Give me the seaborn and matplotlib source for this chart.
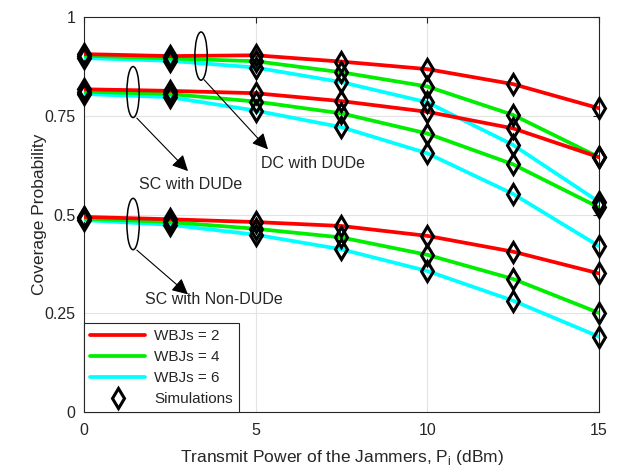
import numpy as np
import pandas as pd
import matplotlib
matplotlib.use("Agg")
import matplotlib.pyplot as plt
from matplotlib.patches import Ellipse
from matplotlib.lines import Line2D
import seaborn as sns

# transmit power of the jammers (dBm)
power = [0, 2.5, 5, 7.5, 10, 12.5, 15]

# DC with DUDe
dc_dude_2 = [0.906, 0.901, 0.903, 0.887, 0.868, 0.830, 0.769]
dc_dude_4 = [0.902, 0.895, 0.888, 0.860, 0.824, 0.752, 0.645]
dc_dude_6 = [0.896, 0.889, 0.872, 0.835, 0.784, 0.676, 0.532]

# SC with DUDe
sc_dude_2 = [0.817, 0.813, 0.807, 0.787, 0.760, 0.718, 0.645]
sc_dude_4 = [0.811, 0.805, 0.786, 0.756, 0.705, 0.627, 0.518]
sc_dude_6 = [0.805, 0.797, 0.763, 0.721, 0.655, 0.552, 0.420]

# SC with Non-DUDe
sc_non_2 = [0.494, 0.488, 0.481, 0.471, 0.446, 0.406, 0.351]
sc_non_4 = [0.490, 0.481, 0.464, 0.442, 0.398, 0.337, 0.251]
sc_non_6 = [0.486, 0.474, 0.449, 0.412, 0.357, 0.282, 0.191]

wbjs_labels = ["WBJs = 2", "WBJs = 4", "WBJs = 6"]
colors = {"WBJs = 2": "#ff0000", "WBJs = 4": "#00ee00", "WBJs = 6": "#00ffff"}

rows = []
for grp, series in [("DC DUDe", [dc_dude_2, dc_dude_4, dc_dude_6]),
                    ("SC DUDe", [sc_dude_2, sc_dude_4, sc_dude_6]),
                    ("SC Non-DUDe", [sc_non_2, sc_non_4, sc_non_6])]:
    for lab, vals in zip(wbjs_labels, series):
        for p, v in zip(power, vals):
            rows.append({"power": p, "cov": v, "wbjs": lab, "group": grp})
df = pd.DataFrame(rows)

sns.set_style("white")
plt.rcParams['font.family'] = ['Liberation Sans', 'DejaVu Sans']

fig = plt.figure(figsize=(6.22, 4.71), dpi=100)
ax = fig.add_axes([0.135, 0.125, 0.828, 0.839])

# draw order: cyan, green, red so red is on top
for lab in wbjs_labels[::-1]:
    for grp in ["DC DUDe", "SC DUDe", "SC Non-DUDe"]:
        d = df[(df.wbjs == lab) & (df.group == grp)]
        sns.lineplot(data=d, x="power", y="cov", color=colors[lab], lw=2.7,
                     ax=ax, legend=False, zorder=3)

ax.plot(df["power"], df["cov"], ls="none", marker="d", markersize=10,
        markerfacecolor="none", markeredgecolor="black", markeredgewidth=2.2,
        zorder=4, clip_on=False)

ax.set_xlim(0, 15)
ax.set_ylim(0, 1)
ax.set_xticks([0, 5, 10, 15])
ax.set_yticks([0, 0.25, 0.5, 0.75, 1])
ax.set_yticklabels(["0", "0.25", "0.5", "0.75", "1"])
ax.grid(True, color="#e3e3e3", lw=0.8)
ax.tick_params(direction="in", top=True, right=True, labelsize=11.5,
               length=4, color="#262626")
ax.tick_params(axis="x", pad=8)
ax.tick_params(axis="y", pad=6)
for s in ax.spines.values():
    s.set_color("#262626")
    s.set_linewidth(0.8)

ax.set_xlabel(r"Transmit Power of the Jammers, P$_\mathregular{i}$ (dBm)",
              fontsize=12.5, labelpad=7)
ax.set_ylabel("Coverage Probability", fontsize=12.5, labelpad=-1.5)

# ellipses, arrows and group labels
for cx, cy, h in [(3.41, 0.901, 0.122), (1.43, 0.810, 0.129), (1.43, 0.476, 0.13)]:
    ax.add_patch(Ellipse((cx, cy), 0.36, h, fill=False, ec="black", lw=1.1, zorder=5))

arrows = [((3.50, 0.841), (5.36, 0.665)),
          ((1.54, 0.744), (3.03, 0.610)),
          ((1.54, 0.410), (3.03, 0.298))]
for start, end in arrows:
    ax.annotate("", xy=end, xytext=start,
                arrowprops=dict(arrowstyle="-|>", color="black", lw=0.8,
                                mutation_scale=24, shrinkA=0, shrinkB=0),
                zorder=5)

ax.text(6.67, 0.630, "DC with DUDe", fontsize=11.5, ha="center", va="center")
ax.text(3.12, 0.575, "SC with DUDe", fontsize=11.5, ha="center", va="center")
ax.text(3.79, 0.284, "SC with Non-DUDe", fontsize=11.5, ha="center", va="center")

handles = [Line2D([], [], color=colors[l], lw=2.7) for l in wbjs_labels]
handles.append(Line2D([], [], ls="none", marker="d", markersize=10,
                      markerfacecolor="none", markeredgecolor="black",
                      markeredgewidth=2.2))
leg = ax.legend(handles, wbjs_labels + ["Simulations"], loc="lower left",
                fontsize=11, handlelength=3.6, borderaxespad=0,
                fancybox=False, framealpha=1, edgecolor="#262626",
                labelspacing=0.45, handletextpad=0.6)
leg.get_frame().set_linewidth(0.8)
leg.set_zorder(6)

fig.savefig("out.png", dpi=100)
